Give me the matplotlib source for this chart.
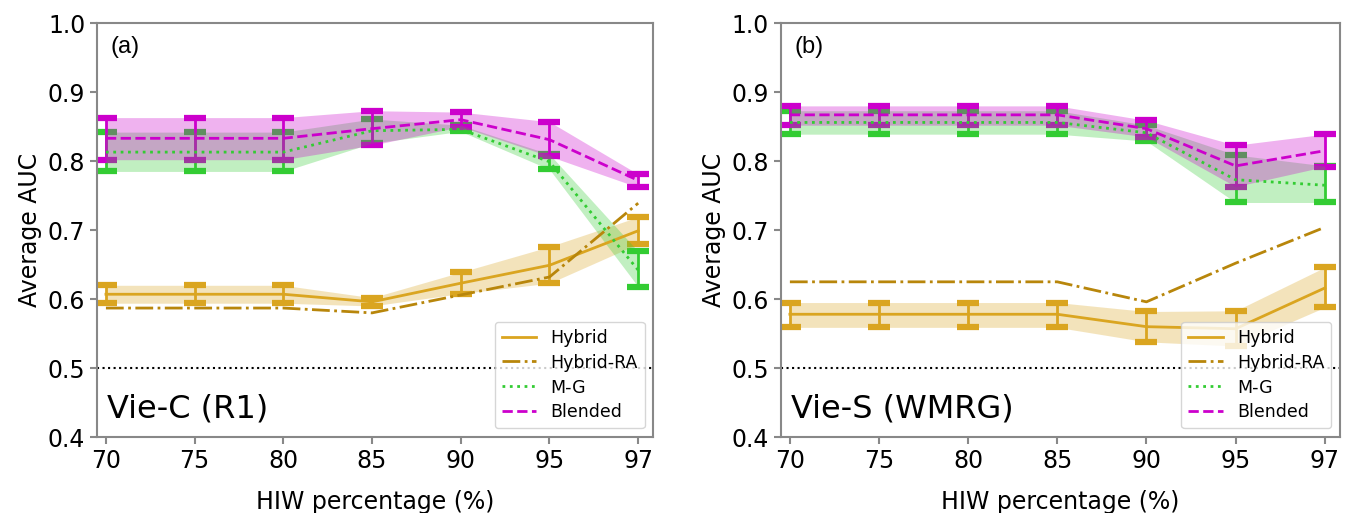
import matplotlib
matplotlib.use("Agg")
import matplotlib.pyplot as plt
import numpy as np

hiw = ["70", "75", "80", "85", "90", "95", "97"]

# Panel (a) Vie-C (R1)
a_hyb = [0.607, 0.607, 0.607, 0.596, 0.623, 0.649, 0.699]
a_hyb_lo = [0.594, 0.594, 0.594, 0.590, 0.608, 0.623, 0.680]
a_hyb_hi = [0.620, 0.620, 0.620, 0.602, 0.639, 0.676, 0.719]
a_hra = [0.587, 0.587, 0.587, 0.580, 0.606, 0.632, 0.739]
a_mg = [0.813, 0.813, 0.813, 0.844, 0.846, 0.799, 0.642]
a_mg_lo = [0.785, 0.785, 0.785, 0.826, 0.843, 0.788, 0.618]
a_mg_hi = [0.842, 0.842, 0.842, 0.861, 0.852, 0.810, 0.669]
a_bl = [0.833, 0.833, 0.833, 0.847, 0.860, 0.831, 0.772]
a_bl_lo = [0.802, 0.802, 0.802, 0.823, 0.850, 0.807, 0.762]
a_bl_hi = [0.863, 0.863, 0.863, 0.873, 0.871, 0.857, 0.781]

# Panel (b) Vie-S (WMRG)
b_hyb = [0.578, 0.578, 0.578, 0.578, 0.560, 0.557, 0.616]
b_hyb_lo = [0.559, 0.559, 0.559, 0.559, 0.538, 0.532, 0.588]
b_hyb_hi = [0.595, 0.595, 0.595, 0.595, 0.582, 0.583, 0.646]
b_hra = [0.625, 0.625, 0.625, 0.625, 0.596, 0.652, 0.704]
b_mg = [0.856, 0.856, 0.856, 0.856, 0.841, 0.773, 0.765]
b_mg_lo = [0.839, 0.839, 0.839, 0.839, 0.829, 0.740, 0.740]
b_mg_hi = [0.873, 0.873, 0.873, 0.873, 0.852, 0.809, 0.793]
b_bl = [0.867, 0.867, 0.867, 0.867, 0.847, 0.793, 0.815]
b_bl_lo = [0.852, 0.852, 0.852, 0.852, 0.835, 0.763, 0.792]
b_bl_hi = [0.880, 0.880, 0.880, 0.880, 0.859, 0.823, 0.839]

C_HYB = "#DAA520"
C_HRA = "#B8860B"
C_MG = "#33CC33"
C_BL = "#CC00CC"
SPINE = "#888888"

fig = plt.figure(figsize=(13.5, 5.13), dpi=100)
ax1 = fig.add_axes([0.0719, 0.148, 0.412, 0.807])
ax2 = fig.add_axes([0.5785, 0.148, 0.414, 0.807])

def band(ax, x, m, lo, hi, color, ls, label):
    m = np.array(m); lo = np.array(lo); hi = np.array(hi)
    ax.errorbar(x, m, yerr=[m - lo, hi - m], fmt="none", ecolor=color,
                elinewidth=2, capsize=8, capthick=4.5, zorder=1.5)
    ax.fill_between(x, lo, hi, color=color, alpha=0.3, linewidth=0, zorder=2)
    ax.plot(x, m, color=color, linestyle=ls, linewidth=2, label=label, zorder=3)

def panel(ax, hyb, hlo, hhi, hra, mg, mlo, mhi, bl, blo, bhi, tag, name):
    x = np.arange(len(hiw))
    band(ax, x, hyb, hlo, hhi, C_HYB, "-", "Hybrid")
    ax.plot(x, hra, color=C_HRA, linestyle="-.", linewidth=2, label="Hybrid-RA", zorder=3)
    band(ax, x, mg, mlo, mhi, C_MG, ":", "M-G")
    band(ax, x, bl, blo, bhi, C_BL, "--", "Blended")
    ax.axhline(0.5, color="black", linestyle=":", linewidth=1.5, zorder=1)
    ax.set_ylim(0.4, 1.0)
    ax.set_xlim(-0.1, 6.17)
    ax.set_yticks([0.4, 0.5, 0.6, 0.7, 0.8, 0.9, 1.0])
    ax.set_yticklabels(["0.4", "0.5", "0.6", "0.7", "0.8", "0.9", "1.0"])
    ax.set_xticks(x)
    ax.set_xticklabels(hiw)
    ax.tick_params(labelsize=17, color=SPINE, length=5, width=1.5)
    for s in ax.spines.values():
        s.set_color(SPINE)
        s.set_linewidth(1.5)
    ax.set_ylabel("Average AUC", fontsize=17)
    ax.set_xlabel("HIW percentage (%)", fontsize=17, labelpad=12)
    ax.text(0.025, 0.97, tag, transform=ax.transAxes, fontsize=17,
            family="Liberation Sans", ha="left", va="top")
    ax.text(0.018, 0.03, name, transform=ax.transAxes, fontsize=23,
            ha="left", va="bottom")
    ax.legend(loc="lower right", fontsize=12.5, labelspacing=0.4)

panel(ax1, a_hyb, a_hyb_lo, a_hyb_hi, a_hra, a_mg, a_mg_lo, a_mg_hi,
      a_bl, a_bl_lo, a_bl_hi, "(a)", "Vie-C (R1)")
panel(ax2, b_hyb, b_hyb_lo, b_hyb_hi, b_hra, b_mg, b_mg_lo, b_mg_hi,
      b_bl, b_bl_lo, b_bl_hi, "(b)", "Vie-S (WMRG)")

fig.savefig("out.png", dpi=100)
